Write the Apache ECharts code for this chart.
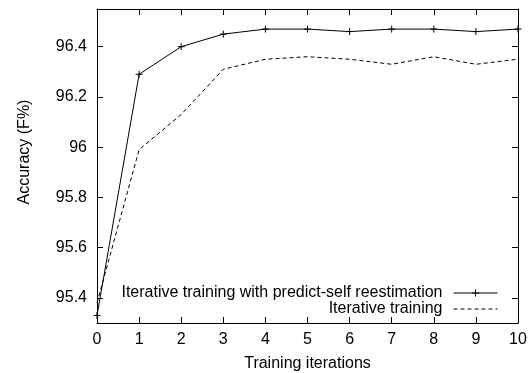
<!DOCTYPE html>
<html><head><meta charset="utf-8">
<script src="https://cdn.jsdelivr.net/npm/echarts@6/dist/echarts.min.js"></script>
<style>html,body{margin:0;padding:0;background:#fff;}#c{width:530px;height:373px;}</style>
</head><body><div id="c"></div>
<script>
const iterations = [0,1,2,3,4,5,6,7,8,9,10];
const predictSelf = [95.33,96.29,96.40,96.45,96.47,96.47,96.46,96.47,96.47,96.46,96.47];
const iterative = [95.38,95.99,96.13,96.31,96.35,96.36,96.35,96.33,96.36,96.33,96.35];
const yTicks = [95.4,95.6,95.8,96,96.2,96.4];
const seriesNames = ['Iterative training with predict-self reestimation','Iterative training'];

const FONT = 'Liberation Sans, Arial, sans-serif';
const FS = 16;
const chart = echarts.init(document.getElementById('c'));
const pair = a => iterations.map((x,i)=>[x,a[i]]);
const plus = 'path://M0,5L10,5M5,0L5,10';
const lineAx = {lineStyle:{color:'#000',width:1}};
chart.setOption({
  animation:false,
  backgroundColor:'#fff',
  grid:{left:97,right:12,top:9,bottom:50,containLabel:false,outerBoundsMode:'none'},
  xAxis:[{
    type:'value',min:0,max:10,interval:1,position:'bottom',
    axisLine:{show:true,onZero:false,...lineAx},
    axisTick:{show:true,inside:true,length:6,lineStyle:{color:'#000'}},
    axisLabel:{color:'#000',fontFamily:FONT,fontSize:FS,margin:9},
    splitLine:{show:false},
    name:'Training iterations',nameLocation:'middle',nameGap:33,
    nameTextStyle:{color:'#000',fontFamily:FONT,fontSize:FS}
  },{
    type:'value',min:0,max:10,interval:1,position:'top',
    axisLine:{show:true,onZero:false,...lineAx},
    axisTick:{show:true,inside:true,length:6,lineStyle:{color:'#000'}},
    axisLabel:{show:false},splitLine:{show:false}
  }],
  yAxis:[{
    type:'value',min:95.3,max:96.55,position:'left',
    axisLine:{show:true,onZero:false,...lineAx},
    axisTick:{show:true,inside:true,length:6,customValues:yTicks,lineStyle:{color:'#000'}},
    axisLabel:{color:'#000',fontFamily:FONT,fontSize:FS,margin:10,customValues:yTicks},
    splitLine:{show:false}
  },{
    type:'value',min:95.3,max:96.55,position:'right',
    axisLine:{show:true,onZero:false,...lineAx},
    axisTick:{show:true,inside:true,length:6,customValues:yTicks,lineStyle:{color:'#000'}},
    axisLabel:{show:false,customValues:yTicks},
    splitLine:{show:false}
  }],
  graphic:[{
    type:'text',x:25,y:152,rotation:Math.PI/2,
    style:{text:'Accuracy (F%)',fill:'#000',font:FS+'px '+FONT,align:'center',verticalAlign:'middle'}
  }],
  legend:{
    orient:'vertical',right:27,top:280,align:'right',
    itemWidth:44,itemHeight:9,itemGap:0,
    lineStyle:{width:1},
    itemStyle:{borderWidth:1},
    textStyle:{color:'#000',fontFamily:FONT,fontSize:FS,padding:[0,6,0,0]},
    data:[{name:seriesNames[0]},{name:seriesNames[1],itemStyle:{opacity:0}}]
  },
  series:[{
    name:seriesNames[0],type:'line',data:pair(predictSelf),
    symbol:plus,symbolSize:7,showAllSymbol:true,
    lineStyle:{color:'#000',width:1},
    itemStyle:{color:'#000',borderColor:'#000',borderWidth:1},
    clip:false
  },{
    name:seriesNames[1],type:'line',data:pair(iterative),
    symbol:'circle',showSymbol:false,
    lineStyle:{color:'#000',width:1,type:[4,3]},
    itemStyle:{color:'#000'},
    clip:false
  }]
});
</script></body></html>
